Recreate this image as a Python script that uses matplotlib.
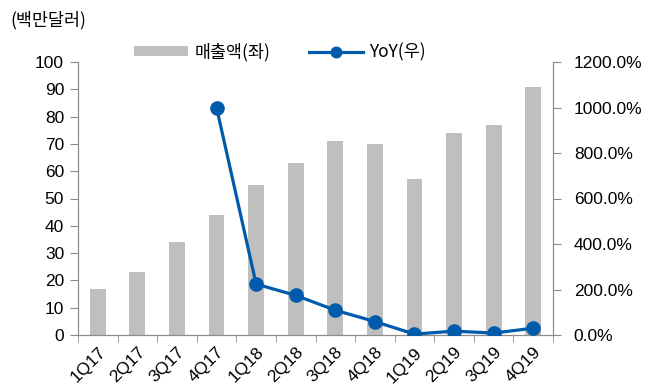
import matplotlib
matplotlib.use("Agg")
import matplotlib.pyplot as plt
import numpy as np

plt.rcParams['font.family'] = ['Liberation Sans', 'Noto Sans CJK KR', 'DejaVu Sans']

quarters = ['1Q17', '2Q17', '3Q17', '4Q17', '1Q18', '2Q18', '3Q18', '4Q18',
            '1Q19', '2Q19', '3Q19', '4Q19']
sales = [17, 23, 34, 44, 55, 63, 71, 70, 57, 74, 77, 91]
yoy_q = ['4Q17', '1Q18', '2Q18', '3Q18', '4Q18', '1Q19', '2Q19', '3Q19', '4Q19']
yoy = [1000, 224, 174, 109, 59, 4, 17, 8.5, 30]

bar_col = '#BFBFBF'
line_col = '#005BAC'
axis_col = '#8C8C8C'

fig = plt.figure(figsize=(6.51, 3.92), dpi=100)
ax = fig.add_axes([78/651, 1-335/392, 475/651, 273/392])
ax2 = ax.twinx()

x = np.arange(len(quarters))
ax.bar(x, sales, width=0.4, color=bar_col, label='매출액(좌)', zorder=2)
xi = [quarters.index(q) for q in yoy_q]
ax2.plot(xi, yoy, color=line_col, lw=2.3, marker='o', ms=9.5, label='YoY(우)', zorder=3)

ax.set_xlim(-0.5, len(quarters) - 0.5)
ax.set_ylim(0, 100)
ax.set_yticks(np.arange(0, 101, 10))
ax2.set_ylim(0, 1200)
ax2.set_yticks(np.arange(0, 1201, 200))
ax2.set_yticklabels(['%.1f%%' % v for v in np.arange(0, 1201, 200)])

ax.set_xticks(x)
ax.set_xticklabels(quarters, rotation=45, ha='right', rotation_mode='anchor')
ax.set_xticks(np.arange(-0.5, len(quarters), 1), minor=True)
ax.tick_params(axis='x', which='major', length=0, labelsize=12.5, pad=7)
ax.tick_params(axis='x', which='minor', length=5, color=axis_col)
ax.tick_params(axis='y', length=6, color=axis_col, labelsize=12.5, pad=4)
ax2.tick_params(axis='y', length=6, color=axis_col, labelsize=12.5, pad=9)

for a in (ax, ax2):
    a.spines['top'].set_visible(False)
    for s in ('left', 'right', 'bottom'):
        a.spines[s].set_color(axis_col)

h1, l1 = ax.get_legend_handles_labels()
h2, l2 = ax2.get_legend_handles_labels()
leg = fig.legend(h1 + h2, l1 + l2, loc='center', bbox_to_anchor=(280/651, 1-52/392),
                 ncol=2, frameon=False, fontsize=12.5, handlelength=3.1,
                 handleheight=0.45, columnspacing=2.2, handletextpad=0.4,
                 markerscale=0.8)
for t in leg.get_texts():
    t.set_family(['Noto Sans CJK KR', 'DejaVu Sans'])

fig.text(10/651, 1-20/392, '(백만달러)', fontsize=12.5, va='center', ha='left',
         family=['Noto Sans CJK KR', 'DejaVu Sans'])

fig.savefig('out.png', dpi=100)
